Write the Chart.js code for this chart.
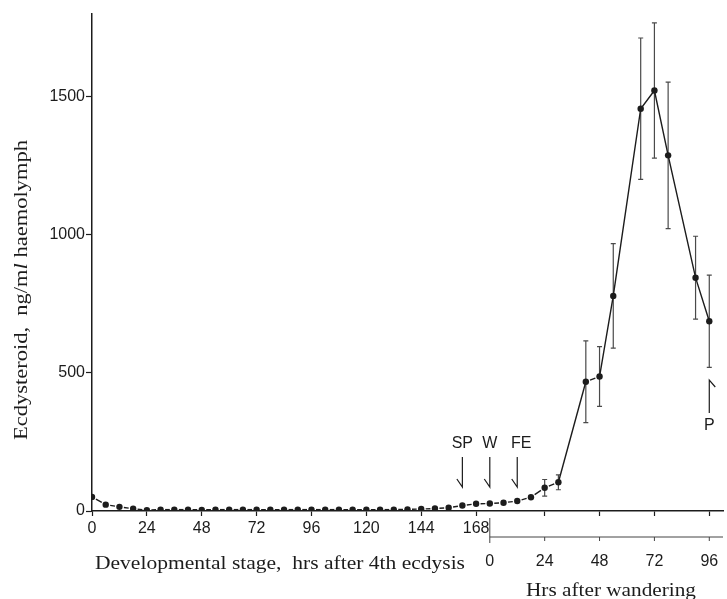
<!DOCTYPE html>
<html>
<head>
<meta charset="utf-8">
<script src="https://cdn.jsdelivr.net/npm/chart.js@4.4.1/dist/chart.umd.min.js"></script>
<style>
  html, body { margin: 0; padding: 0; background: #fff; }
  canvas { display: block; }
</style>
</head>
<body>
<canvas id="chart" width="727" height="599"></canvas>
<script>
// ===== DATA =====
// larval stage, hours after 4th ecdysis
let larvalHours = [0, 6, 12, 18, 24, 30, 36, 42, 48, 54, 60, 66, 72, 78, 84, 90, 96,
                   102, 108, 114, 120, 126, 132, 138, 144, 150, 156, 162, 168];
let larvalTiter = [51, 23, 15, 8, 3, 5, 5, 5, 4, 5, 5, 5, 5, 5, 5, 5, 5,
                   5, 5, 5, 5, 5, 5, 6, 7, 9, 12, 20, 26];

// hours after wandering
let wanderHours = [0, 6, 12, 18, 24, 30, 42, 48, 54, 66, 72, 78, 90, 96];
let wanderTiter = [27, 30, 36, 50, 84, 104, 468, 487, 779, 1457, 1523, 1288, 845, 687];
let wanderSE    = [0, 0, 0, 0, 30, 27, 148, 108, 189, 256, 245, 265, 150, 167];

let larvalTicks = [0, 24, 48, 72, 96, 120, 144, 168];
let wanderTicks = [0, 24, 48, 72, 96];
let yTicks = [0, 500, 1000, 1500];

let WANDER_START = 174;   // wandering hour 0 on the 4th-ecdysis scale

// stage arrows (hours after 4th ecdysis)
let stageNames = ["SP", "W", "FE"];
let stageHours = [162, 174, 186];
let pupationHour = 96;    // hours after wandering

// ===== BUILD =====
let points = larvalHours.map((h, i) => ({ x: h, y: larvalTiter[i] }))
  .concat(wanderHours.map((h, i) => ({ x: h + WANDER_START, y: wanderTiter[i] })));

let ink = "#1c1c1c";
let GAP = 4.5;

function segLen(c) {
  return Math.hypot(c.p1.x - c.p0.x, c.p1.y - c.p0.y);
}

// text stretched to a given width (the original lettering is wide)
function wideText(ctx, parts, x, y, width, align) {
  let total = 0;
  parts.forEach(p => { ctx.font = p.font; p.w = ctx.measureText(p.t).width; total += p.w; });
  let s = width / total;
  let x0 = align === "center" ? x - width / 2 : x;
  ctx.save();
  ctx.translate(x0, y);
  ctx.scale(s, 1);
  ctx.textAlign = "left";
  let cx = 0;
  parts.forEach(p => { ctx.font = p.font; ctx.fillText(p.t, cx, 0); cx += p.w; });
  ctx.restore();
}

let serif = "19px 'Liberation Serif', 'DejaVu Serif', serif";
let serifIt = "italic 19px 'Liberation Serif', 'DejaVu Serif', serif";
let sans = "16px 'Liberation Sans', Arial, sans-serif";

// ===== ERROR BARS =====
let errorBars = {
  id: "errorBars",
  beforeDatasetsDraw(chart) {
    let ctx = chart.ctx, x = chart.scales.x, y = chart.scales.y;
    ctx.save();
    ctx.strokeStyle = "#4a4a4a";
    ctx.lineWidth = 1.2;
    wanderHours.forEach((h, i) => {
      if (!wanderSE[i]) return;
      let px = x.getPixelForValue(h + WANDER_START);
      let top = y.getPixelForValue(wanderTiter[i] + wanderSE[i]);
      let bot = y.getPixelForValue(wanderTiter[i] - wanderSE[i]);
      ctx.beginPath();
      ctx.moveTo(px, top); ctx.lineTo(px, bot);
      ctx.moveTo(px - 2.5, top); ctx.lineTo(px + 2.5, top);
      ctx.moveTo(px - 2.5, bot); ctx.lineTo(px + 2.5, bot);
      ctx.stroke();
    });
    ctx.restore();
  }
};

// ===== EXTRA AXIS, ARROWS, TITLES =====
let decorations = {
  id: "decorations",
  afterDraw(chart) {
    let ctx = chart.ctx, x = chart.scales.x, y = chart.scales.y;
    let area = chart.chartArea;
    ctx.save();
    ctx.fillStyle = ink;
    ctx.strokeStyle = ink;

    // second time axis: hrs after wandering
    let x0 = x.getPixelForValue(WANDER_START);
    let ly = area.bottom + 26;
    ctx.lineWidth = 1;
    ctx.strokeStyle = "#444";
    ctx.beginPath();
    ctx.moveTo(x0, ly); ctx.lineTo(area.right, ly);
    ctx.moveTo(x0, area.bottom + 7); ctx.lineTo(x0, ly + 6);
    wanderTicks.slice(1).forEach(h => {
      let px = x.getPixelForValue(h + WANDER_START);
      ctx.moveTo(px, ly); ctx.lineTo(px, ly + 4);
    });
    ctx.stroke();

    ctx.font = sans;
    ctx.textAlign = "center";
    ctx.textBaseline = "middle";
    wanderTicks.forEach(h => {
      ctx.fillText(String(h), x.getPixelForValue(h + WANDER_START), area.bottom + 51);
    });

    // stage arrows
    ctx.strokeStyle = ink;
    ctx.lineWidth = 1.2;
    stageNames.forEach((name, i) => {
      let px = x.getPixelForValue(stageHours[i]);
      let tip = area.bottom - 24;
      ctx.beginPath();
      ctx.moveTo(px, tip - 30); ctx.lineTo(px, tip);
      ctx.lineTo(px - 5.5, tip - 8);
      ctx.stroke();
      ctx.fillText(name, px + (name === "FE" ? 4 : 0), tip - 43);
    });

    // pupation arrow
    let pp = x.getPixelForValue(pupationHour + WANDER_START);
    let ptip = area.bottom - 131;
    ctx.beginPath();
    ctx.moveTo(pp, ptip + 33); ctx.lineTo(pp, ptip);
    ctx.lineTo(pp + 6, ptip + 7);
    ctx.stroke();
    ctx.fillText("P", pp, ptip + 46);

    // axis titles
    ctx.textBaseline = "alphabetic";
    wideText(ctx, [{ t: "Developmental stage,  hrs after 4th ecdysis", font: serif }],
      area.left + 3, area.bottom + 58, 370, "left");
    wideText(ctx, [{ t: "Hrs after wandering", font: serif }],
      611, area.bottom + 85, 170, "center");

    ctx.save();
    ctx.translate(22, 290);
    ctx.rotate(-Math.PI / 2);
    ctx.textBaseline = "middle";
    wideText(ctx, [
      { t: "Ecdysteroid,  ng/m", font: serif },
      { t: "l", font: serifIt },
      { t: " haemolymph", font: serif }
    ], 0, 0, 300, "center");
    ctx.restore();

    ctx.restore();
  }
};

// ===== CHART =====
Chart.defaults.font.family = "'Liberation Sans', Arial, sans-serif";
Chart.defaults.color = ink;

new Chart(document.getElementById("chart"), {
  type: "scatter",
  data: {
    datasets: [{
      data: points,
      showLine: true,
      borderColor: ink,
      borderWidth: 1.4,
      pointRadius: 3.2,
      pointBackgroundColor: ink,
      pointBorderWidth: 0,
      segment: {
        borderDash: c => segLen(c) < 18 ? [Math.max(segLen(c) - 2 * GAP, 1), 2 * GAP] : undefined,
        borderDashOffset: c => segLen(c) < 18 ? segLen(c) - GAP : 0
      }
    }]
  },
  options: {
    responsive: false,
    devicePixelRatio: 1,
    animation: false,
    events: [],
    layout: { padding: { top: 14, right: 0, bottom: 0, left: 0 } },
    plugins: { legend: { display: false }, tooltip: { enabled: false } },
    scales: {
      x: {
        type: "linear",
        min: 0,
        max: 276,
        afterBuildTicks: s => {
          s.ticks = larvalTicks.concat(wanderTicks.slice(1).map(h => h + WANDER_START))
            .map(v => ({ value: v }));
        },
        afterFit: s => { s.height = 88; },
        ticks: {
          autoSkip: false,
          maxRotation: 0,
          padding: 3,
          font: { size: 16 },
          callback: v => (v <= 168 ? String(v) : "")
        },
        grid: { drawOnChartArea: false, tickLength: 5, color: ink, tickWidth: 1.2 },
        border: { color: ink, width: 1.5 }
      },
      y: {
        min: 0,
        max: 1800,
        afterBuildTicks: s => { s.ticks = yTicks.map(v => ({ value: v })); },
        afterFit: s => { s.width = 92; },
        ticks: { padding: 1, font: { size: 16 }, callback: v => String(v) },
        grid: { drawOnChartArea: false, tickLength: 6, color: ink, tickWidth: 1.2 },
        border: { color: ink, width: 1.5 }
      }
    }
  },
  plugins: [errorBars, decorations]
});
</script>
</body>
</html>
